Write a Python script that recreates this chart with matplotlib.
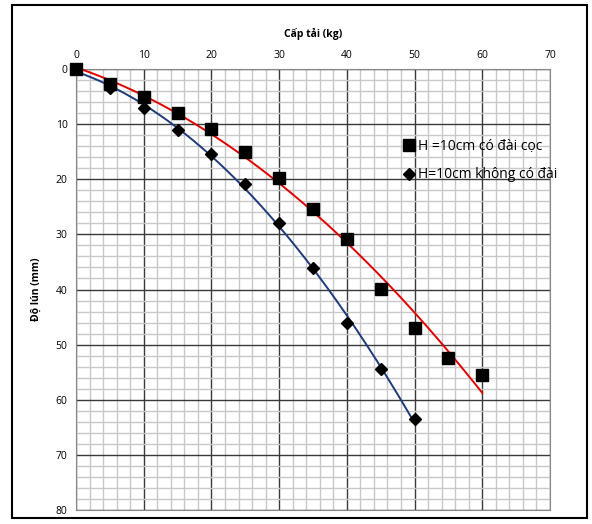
import numpy as np
import matplotlib.pyplot as plt
from matplotlib.patches import Rectangle

plt.rcParams['font.family'] = ['Open Sans', 'DejaVu Sans']

# tải trọng (kg) và độ lún (mm)
load_a = [0, 5, 10, 15, 20, 25, 30, 35, 40, 45, 50, 55, 60]
settle_a = [0, 2.8, 5.0, 7.9, 10.9, 15.0, 19.8, 25.4, 30.9, 39.9, 46.9, 52.5, 55.5]
load_b = [0, 5, 10, 15, 20, 25, 30, 35, 40, 45, 50]
settle_b = [0, 3.4, 7.0, 11.1, 15.5, 20.9, 28.0, 36.1, 46.0, 54.5, 63.5]
label_a = "H =10cm có đài cọc"
label_b = "H=10cm không có đài"

fig = plt.figure(figsize=(5.92, 5.24), dpi=100)
ax = fig.add_axes([76/592, 1-510/524, 474/592, 441/524])

# outer chart frame
fig.patches.append(Rectangle((12/592, 1-518/524), 575/592, 513/524,
                             transform=fig.transFigure, fill=False,
                             edgecolor='black', linewidth=1.5))

ax.set_xlim(0, 70)
ax.set_ylim(80, 0)
ax.set_xticks(np.arange(0, 71, 10))
ax.set_yticks(np.arange(0, 81, 10))
ax.set_xticks(np.arange(0, 71, 2), minor=True)
ax.set_yticks(np.arange(0, 81, 2), minor=True)
ax.grid(which='minor', color='#c8c8c8', linewidth=1.0, zorder=0)
ax.grid(which='major', color='#3a3a3a', linewidth=1.0, zorder=1)
ax.xaxis.tick_top()
ax.xaxis.set_label_position('top')
ax.tick_params(which='both', length=0, labelsize=7.5, pad=6)
for s in ax.spines.values():
    s.set_color('#888888')

ax.set_xlabel('Cấp tải (kg)', fontsize=7.5, fontweight='bold', labelpad=9)
ax.set_ylabel('Độ lún (mm)', fontsize=7.5, fontweight='bold', labelpad=10)

# đường xu hướng bậc 2
pa = np.polyfit(load_a, settle_a, 2)
pb = np.polyfit(load_b, settle_b, 2)
xa = np.linspace(0, 60, 200)
xb = np.linspace(0, 50, 200)
ax.plot(xa, np.polyval(pa, xa), color='#e00000', linewidth=1.4, zorder=3)
ax.plot(xb, np.polyval(pb, xb), color='#1f3a7a', linewidth=1.4, zorder=3)

ax.plot(load_a, settle_a, 's', color='black', markersize=8.5, label=label_a,
        zorder=4, clip_on=False)
ax.plot(load_b, settle_b, 'D', color='black', markersize=6, label=label_b,
        zorder=4, clip_on=False)

ax.legend(loc='upper left', bbox_to_anchor=(0.68, 0.855), frameon=False,
          fontsize=10, handlelength=0.7, handletextpad=0.35, labelspacing=1.0,
          borderaxespad=0)

fig.savefig('out.png', dpi=100)
